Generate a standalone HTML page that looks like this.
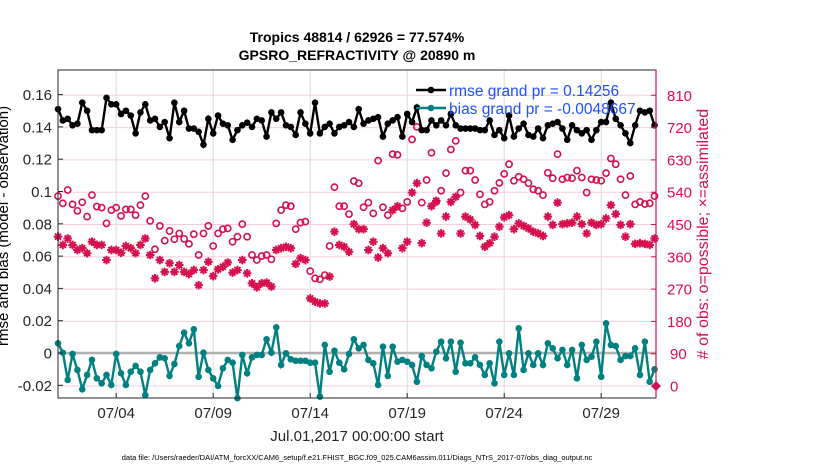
<!DOCTYPE html>
<html><head><meta charset="utf-8"><style>
body{margin:0;background:#fff;}
svg text{font-family:"Liberation Sans",sans-serif;}
</style></head><body>
<svg id="chart" width="830" height="470" xmlns="http://www.w3.org/2000/svg">
<rect width="830" height="470" fill="#fff"/>
<g id="grid"></g>
<g id="marks"></g>
<g id="axes"></g>
</svg>
<script>
const rmse=[0.151,0.144,0.145,0.141,0.142,0.155,0.150,0.138,0.138,0.138,0.158,0.154,0.154,0.148,0.150,0.147,0.136,0.149,0.154,0.144,0.145,0.140,0.143,0.133,0.155,0.143,0.150,0.139,0.139,0.137,0.129,0.145,
0.136,0.147,0.142,0.141,0.132,0.138,0.141,0.1426,0.140,0.145,0.144,0.134,0.149,0.145,0.149,0.141,0.140,0.135,0.149,0.142,0.136,0.155,0.136,0.140,0.142,0.136,0.140,0.141,0.143,0.140,0.151,
0.142,0.144,0.145,0.146,0.134,0.142,0.144,0.146,0.134,0.148,0.143,0.152,0.138,0.138,0.144,0.141,0.144,0.141,0.148,0.141,0.139,0.139,0.139,0.139,0.138,0.138,0.144,0.135,0.138,0.133,0.147,
0.134,0.139,0.142,0.135,0.134,0.139,0.133,0.141,0.142,0.143,0.139,0.132,0.141,0.138,0.136,0.138,0.132,0.138,0.143,0.143,0.155,0.145,0.141,0.136,0.130,0.141,0.150,0.149,0.150,0.141];
const bias=[0.006,0.0002,-0.0167,-0.0006,-0.0105,-0.0225,-0.0136,-0.0043,-0.0157,-0.0188,-0.0136,-0.0198,-0.0006,-0.0126,-0.0198,-0.0116,-0.008,-0.0116,-0.026,-0.0105,-0.0064,-0.0027,-0.0033,-0.0142,-0.0068,0.0043,0.0126,0.006,0.0147,-0.0147,0.0002,-0.0105,
-0.0157,-0.0204,-0.0095,-0.0043,-0.006,-0.028,-0.0012,-0.0126,-0.0027,-0.0012,-0.0012,0.0085,0.0002,0.0159,-0.0074,-0.0002,-0.0039,-0.0048,-0.0048,-0.0048,-0.006,-0.006,-0.027,0.005,-0.0116,0.0014,-0.006,-0.0101,-0.0006,0.0085,0.0029,
0.005,-0.0043,-0.0064,-0.0198,0.0039,-0.0142,0.0039,-0.0054,-0.0043,-0.0054,-0.0074,-0.0178,-0.0019,-0.0074,-0.0095,0.0008,0.007,-0.0033,0.007,-0.0116,0.0064,-0.0064,-0.0064,-0.0027,-0.0074,-0.0136,-0.0064,-0.0188,0.007,-0.0136,-0.0002,
-0.0136,0.0153,-0.0105,-0.0002,-0.0074,-0.0002,-0.0074,0.006,0.0029,-0.0033,0.0019,-0.0074,0.0019,-0.0157,0.005,-0.0043,-0.0023,0.007,-0.0147,0.0184,0.005,0.0043,-0.0043,-0.0019,-0.0019,0.0029,-0.0136,0.007,-0.0178,-0.0101];
const possible=[529,509,546,506,488,512,472,532,500,497,453,490,497,474,492,492,476,504,529,460,381,446,405,432,409,425,410,396,423,365,425,446,
390,425,437,439,402,416,451,416,365,351,362,365,353,453,490,504,501,437,455,458,320,300,297,309,390,554,501,501,479,571,565,
498,511,481,628,498,476,646,644,495,513,687,722,511,574,650,513,544,593,659,683,539,600,600,574,534,506,513,544,566,591,618,
572,583,576,565,548,544,532,594,579,646,576,581,579,600,581,539,576,574,572,593,634,618,576,532,585,506,513,507,509,529];
const assimilated=[416,393,411,393,379,384,370,402,393,393,351,379,379,371,390,384,370,393,411,365,300,351,318,342,318,337,318,312,323,281,323,346,
306,325,332,344,316,323,351,314,286,275,286,288,277,379,384,388,384,340,356,351,244,235,230,230,305,430,393,388,374,451,437,
437,379,402,358,384,370,490,501,384,402,539,565,398,455,501,516,425,472,513,527,425,472,464,449,418,388,398,416,444,470,476,
437,453,446,439,430,425,418,472,449,511,451,453,455,472,451,425,455,449,451,467,504,479,449,416,451,396,398,396,393,411];
const xTickLabels=["07/04","07/09","07/14","07/19","07/24","07/29"];
const xTickDays=[3,8,13,18,23,28];
const yTicks=[-0.02,0,0.02,0.04,0.06,0.08,0.1,0.12,0.14,0.16];
const yTickLabels=["-0.02","0","0.02","0.04","0.06","0.08","0.1","0.12","0.14","0.16"];
const rTicks=[0,90,180,270,360,450,540,630,720,810];

const NS="http://www.w3.org/2000/svg";
const L=58,R=656,T=70,B=398;
const xs=d=>58+d*19.4;
const ys=v=>353-v*1615;
const yr=c=>386-c*32.3/90;
function mk(tag,attrs,parent){const e=document.createElementNS(NS,tag);for(const k in attrs)e.setAttribute(k,attrs[k]);parent.appendChild(e);return e;}
const grid=document.getElementById('grid'),marks=document.getElementById('marks'),axes=document.getElementById('axes');

rTicks.forEach(c=>{const g=mk('line',{x1:L,x2:R,y1:yr(c),y2:yr(c),stroke:'#f5cde0','stroke-width':1},grid);

});
xTickDays.forEach(d=>{const g=mk('line',{x1:xs(d),x2:xs(d),y1:T,y2:B,stroke:'#dcdcdc','stroke-width':1},grid);

});
const zl=mk('line',{x1:L,x2:R,y1:ys(0),y2:ys(0),stroke:'#b0b0b0','stroke-width':2.5},grid);



possible.forEach((c,i)=>{const e=mk('circle',{cx:xs(i*0.25),cy:yr(c),r:3.1,fill:'none',stroke:'#d6104f','stroke-width':1.6},marks);

});
assimilated.forEach((c,i)=>{const x=xs(i*0.25),y=yr(c);const e=mk('path',{d:`M${x-4.3} ${y}H${x+4.3}M${x} ${y-4.3}V${y+4.3}M${x-3} ${y-3}L${x+3} ${y+3}M${x-3} ${y+3}L${x+3} ${y-3}`,stroke:'#d6104f','stroke-width':2},marks);

});
function series(vals,color,name){
 const pts=vals.map((v,i)=>xs(i*0.25).toFixed(1)+','+ys(v).toFixed(1)).join(' ');
 const pl=mk('polyline',{points:pts,fill:'none',stroke:color,'stroke-width':2.4},marks);
 
 
 vals.forEach((v,i)=>{const c=mk('circle',{cx:xs(i*0.25),cy:ys(v),r:3.3,fill:color},marks);
 
 });
}
series(rmse,'#000','rmse');
series(bias,'#008080','bias');
const dm=mk('path',{d:`M${R} ${yr(0)-5}L${R+5} ${yr(0)}L${R} ${yr(0)+5}L${R-5} ${yr(0)}Z`,fill:'#d6104f'},marks);



mk('rect',{x:L,y:T,width:R-L,height:B-T,fill:'none',stroke:'#262626','stroke-width':1},axes);
const ra=mk('line',{x1:R,x2:R,y1:T,y2:B,stroke:'#d6104f','stroke-width':1.2},axes);


yTicks.forEach((v,i)=>{mk('line',{x1:L,x2:L+5,y1:ys(v),y2:ys(v),stroke:'#262626'},axes);
const t=mk('text',{x:L-6,y:ys(v)+5.5,'text-anchor':'end','font-size':15,fill:'#262626'},axes);t.textContent=yTickLabels[i];

});
rTicks.forEach(c=>{mk('line',{x1:R-5,x2:R,y1:yr(c),y2:yr(c),stroke:'#d6104f'},axes);
const t=mk('text',{x:c===0?R+14:(c===90?R+14:R+11),y:yr(c)+5.5,'font-size':15,fill:'#d6104f'},axes);t.textContent=c;

});
xTickDays.forEach((d,i)=>{mk('line',{x1:xs(d),x2:xs(d),y1:B,y2:B-5,stroke:'#262626'},axes);
const t=mk('text',{x:xs(d),y:418,'text-anchor':'middle','font-size':15,fill:'#262626'},axes);t.textContent=xTickLabels[i];

});
</script>
<svg style="position:absolute;left:0;top:0" width="830" height="470" xmlns="http://www.w3.org/2000/svg">
<text x="357" y="42" text-anchor="middle" font-size="14" font-weight="bold" fill="#000">Tropics 48814 / 62926 = 77.574%</text>
<text x="357" y="60" text-anchor="middle" font-size="14" font-weight="bold" fill="#000">GPSRO_REFRACTIVITY @ 20890 m</text>
<text transform="translate(8,346) rotate(-90)" text-anchor="start" font-size="15" fill="#000">rmse and bias (model - observation)</text>
<text transform="translate(708,234) rotate(-90)" text-anchor="middle" font-size="16" fill="#d6104f"># of obs: o=possible; ×=assimilated</text>
<text x="357" y="441" text-anchor="middle" font-size="15" fill="#262626">Jul.01,2017 00:00:00 start</text>
<text x="357" y="460" text-anchor="middle" font-size="7.5" fill="#000">data file: /Users/raeder/DAI/ATM_forcXX/CAM6_setup/f.e21.FHIST_BGC.f09_025.CAM6assim.011/Diags_NTrS_2017-07/obs_diag_output.nc</text>
<g>
<line x1="416" x2="446" y1="90" y2="90" stroke="#000" stroke-width="2.4"/><circle cx="431" cy="90" r="3.3" fill="#000"/>
<text x="449" y="96" font-size="15.5" fill="#1f4fff">rmse grand pr = 0.14256</text>
<line x1="416" x2="446" y1="108" y2="108" stroke="#008080" stroke-width="2.4"/><circle cx="431" cy="108" r="3.3" fill="#008080"/>
<text x="449" y="114" font-size="15.5" fill="#1f4fff">bias grand pr = -0.0048667</text>
</g>
</svg>
</body></html>
